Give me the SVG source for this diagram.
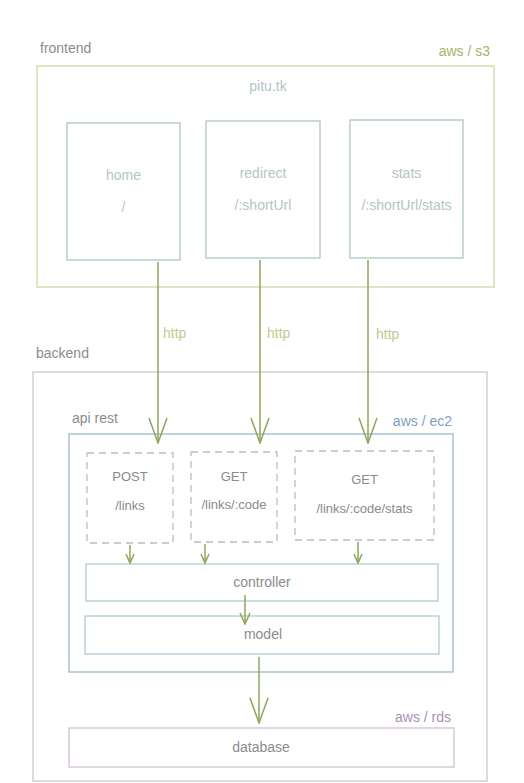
<svg xmlns="http://www.w3.org/2000/svg" width="524" height="783" viewBox="0 0 524 783">
<style>
text{font-family:"Liberation Sans",Arial,sans-serif;font-size:14px}
.lbl{fill:#8c8c8c}
.pg{fill:#b2c6c6;text-anchor:middle}
.ep{fill:#8a8a8a;font-size:13px;text-anchor:middle}
.mid{text-anchor:middle}
.end{text-anchor:end}
.http{fill:#c2ca8e}
.pbox{fill:none;stroke:#b9cccc;stroke-width:1.5}
.dash{fill:none;stroke:#bdbdbd;stroke-width:1.3;stroke-dasharray:7 5}
.layer{fill:none;stroke:#b3c8d4;stroke-width:1.3}
.conn{stroke:#8ea55a;stroke-width:1.5;fill:none}
</style>
<defs>
<marker id="big" markerUnits="userSpaceOnUse" viewBox="0 0 27 20" markerWidth="27" markerHeight="20" refX="26" refY="10" orient="auto">
<path d="M1,1 L26,10 L1,19" fill="none" stroke="#8ea55a" stroke-width="1.5"/>
</marker>
<marker id="mid" markerUnits="userSpaceOnUse" viewBox="0 0 13 12" markerWidth="13" markerHeight="12" refX="12" refY="6" orient="auto">
<path d="M1,1 L12,6 L1,11" fill="none" stroke="#8ea55a" stroke-width="1.5"/>
</marker>
<marker id="small" markerUnits="userSpaceOnUse" viewBox="0 0 11 10" markerWidth="11" markerHeight="10" refX="10" refY="5" orient="auto">
<path d="M1,1 L10,5 L1,9" fill="none" stroke="#8ea55a" stroke-width="1.5"/>
</marker>
</defs>
<rect width="524" height="783" fill="#ffffff"/>

<g id="frontend">
<text class="lbl" x="40" y="53">frontend</text>
<text class="end" x="490" y="56" fill="#a9b26a">aws / s3</text>
<rect x="37" y="66" width="457" height="221" fill="none" stroke="#d6dcb2" stroke-width="1.5"/>
<text class="pg" x="268" y="91">pitu.tk</text>
</g>
<g id="home">
<rect class="pbox" x="67" y="123" width="113" height="137"/>
<text class="pg" x="123.5" y="180">home</text>
<text class="pg" x="123.5" y="212">/</text>
</g>
<g id="redirect">
<rect class="pbox" x="206" y="121" width="114" height="137"/>
<text class="pg" x="263" y="178">redirect</text>
<text class="pg" x="263" y="210">/:shortUrl</text>
</g>
<g id="stats">
<rect class="pbox" x="350" y="120" width="113" height="138"/>
<text class="pg" x="406.5" y="178">stats</text>
<text class="pg" x="406.5" y="210">/:shortUrl/stats</text>
</g>

<g id="backend">
<text class="lbl" x="36" y="358">backend</text>
<rect x="33" y="372" width="454" height="409" fill="none" stroke="#cdd3d6" stroke-width="1.5"/>
</g>
<g id="api-rest">
<text class="lbl" x="72" y="423">api rest</text>
<text class="end" x="452" y="426" fill="#7f9fbf">aws / ec2</text>
<rect x="69" y="434" width="384" height="238" fill="none" stroke="#a9c3d3" stroke-width="1.5"/>
</g>
<g id="post-links">
<rect class="dash" x="87" y="453" width="86" height="90"/>
<text class="ep" x="130" y="481">POST</text>
<text class="ep" x="130" y="510">/links</text>
</g>
<g id="get-code">
<rect class="dash" x="191" y="452" width="86" height="90"/>
<text class="ep" x="234" y="481">GET</text>
<text class="ep" x="234" y="509">/links/:code</text>
</g>
<g id="get-stats">
<rect class="dash" x="295" y="451" width="139" height="89"/>
<text class="ep" x="364.5" y="484">GET</text>
<text class="ep" x="364.5" y="513">/links/:code/stats</text>
</g>
<g id="controller">
<rect class="layer" x="86" y="564" width="352" height="37"/>
<text class="lbl mid" x="262" y="587">controller</text>
</g>
<g id="model">
<rect class="layer" x="85" y="616" width="354" height="38"/>
<text class="lbl mid" x="263" y="639">model</text>
</g>
<g id="database">
<text class="end" x="451" y="722" fill="#a890b8">aws / rds</text>
<rect x="69" y="728" width="385" height="39" fill="none" stroke="#d8c8dc" stroke-width="1.5"/>
<text class="lbl mid" x="261" y="752">database</text>
</g>

<g id="connectors">
<line class="conn" x1="158" y1="262" x2="158" y2="443" marker-end="url(#big)"/>
<line class="conn" x1="260" y1="260" x2="260" y2="443" marker-end="url(#big)"/>
<line class="conn" x1="368" y1="260" x2="368" y2="443" marker-end="url(#big)"/>
<text class="http" x="163" y="338">http</text>
<text class="http" x="267" y="338">http</text>
<text class="http" x="376" y="339">http</text>
<line class="conn" x1="130" y1="545" x2="130" y2="563" marker-end="url(#small)"/>
<line class="conn" x1="205" y1="544" x2="205" y2="563" marker-end="url(#small)"/>
<line class="conn" x1="358" y1="542" x2="358" y2="563" marker-end="url(#small)"/>
<line class="conn" x1="245" y1="595" x2="245" y2="624" marker-end="url(#mid)"/>
<line class="conn" x1="259" y1="657" x2="259" y2="723" marker-end="url(#big)"/>
</g>
</svg>
